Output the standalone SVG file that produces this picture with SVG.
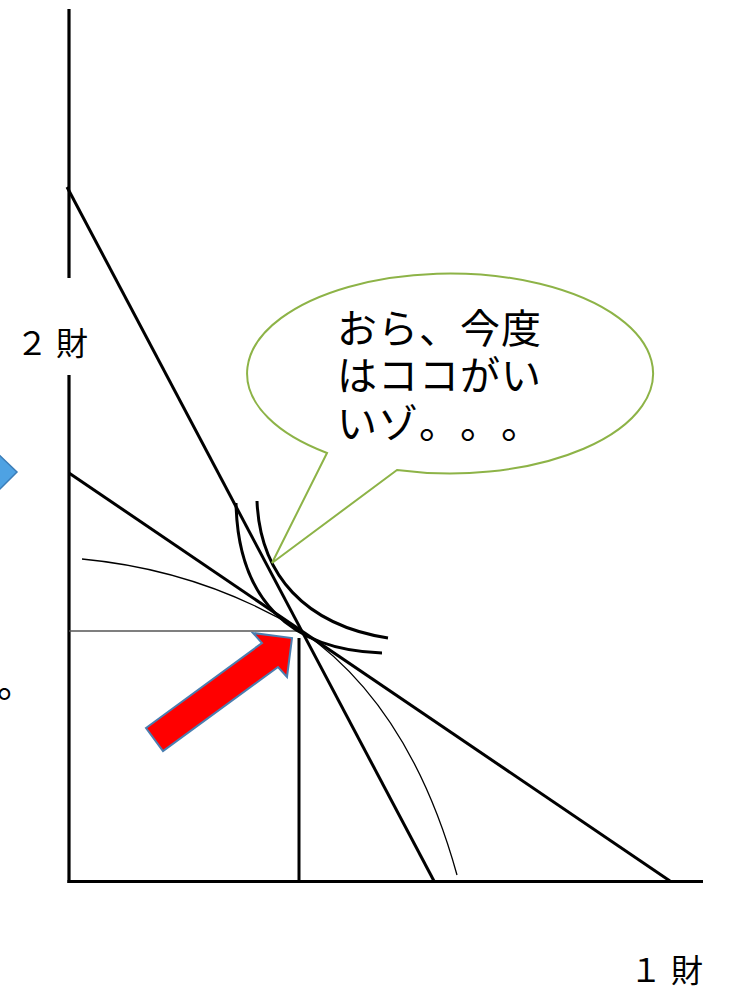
<svg xmlns="http://www.w3.org/2000/svg" width="731" height="993" viewBox="0 0 731 993">
<style>
.ax{stroke:#000;stroke-width:3.2;fill:none}
.ln{stroke:#000;stroke-width:3;fill:none;stroke-linecap:butt}
.thin{stroke:#000;stroke-width:1.3;fill:none}
.guide{stroke:#555;stroke-width:1.5;fill:none}
.jp{font-family:"Noto Sans CJK JP","Noto Sans CJK SC",sans-serif;fill:#000}
</style>
<rect width="731" height="993" fill="#fff"/>
<g id="axes">
<line class="ax" x1="69" y1="9" x2="69" y2="278"/>
<line class="ax" x1="69" y1="375" x2="69" y2="883"/>
<line class="ax" x1="67.5" y1="881.5" x2="703" y2="881.5"/>
</g>
<g id="connectors">
<line class="ln" x1="67" y1="187" x2="434" y2="881"/>
<line class="ln" x1="69" y1="473" x2="670" y2="881"/>
<line class="guide" x1="69" y1="631" x2="300" y2="631"/>
<line class="ln" x1="299" y1="638" x2="299" y2="881"/>
<path class="thin" d="M82,559 Q200,570 300,630 Q410,705 457,875"/>
<path class="ln" d="M236,503 C238,600 290,650 382,653"/>
<path class="ln" d="M257,501 C260,575 305,625 388,638"/>
</g>
<g id="bubble">
<path d="M327,453 A203,100 0 1 1 397,470 L272,563 Z" fill="#fff" stroke="#8DB347" stroke-width="2"/>
<text class="jp" font-size="40" x="337 378 419 460 501" y="343">おら、今度</text>
<text class="jp" font-size="40" x="337 378 419 460 501" y="390">はココがい</text>
<text class="jp" font-size="40" x="337 378 419 460 501" y="438">いゾ。。。</text>
</g>
<g id="red-arrow">
<polygon points="146,728 262,643 253,633 292,638 287,677 278,667 163,751" fill="#FF0000" stroke="#4A7EB0" stroke-width="2" stroke-linejoin="miter"/>
</g>
<g id="blue-arrow">
<polygon points="-6,450 17,472 -6,495" fill="#4EA2E3" stroke="#3B7DB8" stroke-width="1.5"/>
</g>
<g id="labels">
<text class="jp" font-size="32" x="16 56" y="355">２財</text>
<text class="jp" font-size="32" x="630 671" y="982">１財</text>
<text class="jp" font-size="38" x="-3" y="697">。</text>
</g>
</svg>
